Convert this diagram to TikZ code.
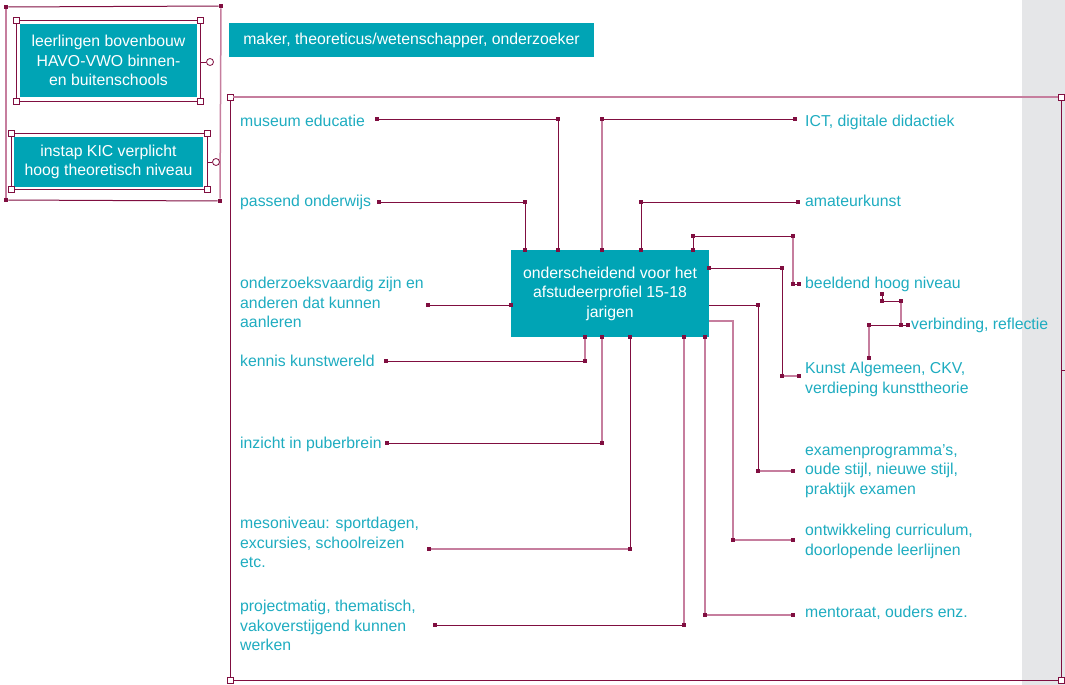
\documentclass[tikz,border=0pt]{standalone}
\usepackage{fontspec}
\setmainfont{Liberation Sans}
\definecolor{boxteal}{RGB}{0,164,181}
\definecolor{txtteal}{RGB}{30,172,192}
\definecolor{wine}{RGB}{128,14,64}
\definecolor{rose}{RGB}{198,126,158}
\definecolor{sidegray}{RGB}{229,230,232}
\newcommand{\lblfont}{\fontsize{15.8}{19.5}\selectfont}
\tikzset{
  vtx/.style={fill=wine, rectangle, minimum size=4.5pt, inner sep=0pt},
  hnd/.style={fill=white, draw=wine, line width=0.8pt, rectangle, minimum size=6pt, inner sep=0pt},
  link/.style={draw=wine, line width=1pt},
  plink/.style={draw=rose, line width=1.5pt},
  lbl/.style={font=\lblfont, text=txtteal, align=left, inner sep=0pt, anchor=north west},
  tealbox/.style={fill=boxteal, text=white, font=\lblfont, align=center, inner sep=0pt},
}
\begin{document}
\begin{tikzpicture}[x=1pt,y=-1pt]
\useasboundingbox (0,0) rectangle (1065,685);
\fill[sidegray] (1022,0) rectangle (1065,685);

% groep linksboven
\foreach \n/\x/\y in {ga/6/7, gb/221/6, gc/220/201, gd/6/200}{
  \node[vtx] (\n) at (\x,\y) {};
}
\draw[link] (ga) -- (gb);
\draw[link] (gd) -- (gc);
\draw[plink] (ga) -- (gd);
\draw[plink] (gb) -- (gc);

\node[tealbox, minimum width=177pt, minimum height=73pt] (leerl) at (108.5,60.5)
  {leerlingen bovenbouw\\HAVO-VWO binnen-\\en buitenschools};
\node[tealbox, minimum width=189pt, minimum height=50pt] (instap) at (108.5,162)
  {instap KIC verplicht\\hoog theoretisch niveau};
\node[tealbox, minimum width=365pt, minimum height=34pt] (maker) at (411.5,40)
  {maker, theoreticus/wetenschapper, onderzoeker};

\draw[wine, line width=0.8pt] (16,20) rectangle (200.5,101);
\draw[wine, line width=0.8pt] (11,133) rectangle (207,189);
\foreach \n/\x/\y in {la/16/20, lb/200.5/20, lc/200.5/101, ld/16/101,
                      ia/11/133, ib/207/133, ic/207/189, id/11/189}{
  \node[hnd] (\n) at (\x,\y) {};
}
\node[circle, draw=wine, fill=white, line width=0.8pt, minimum size=7pt, inner sep=0pt] (lcirc) at (210,62) {};
\node[circle, draw=wine, fill=white, line width=0.8pt, minimum size=7pt, inner sep=0pt] (icirc) at (216,162) {};
\draw[wine, line width=0.8pt] (200.5,62) -- (lcirc);
\draw[wine, line width=0.8pt] (207,162) -- (icirc);

% groot kader
\foreach \n/\x/\y in {fa/230/97, fb/1061/97, fc/1061/680, fd/230/680}{
  \node[hnd] (\n) at (\x,\y) {};
}
\draw[plink] (fa) -- (fb);
\draw[link] (fb) -- (fc) -- (fd) -- (fa);
\coordinate (tick) at (1065,370);
\draw[link] (1061,370) -- (tick);

% middelste blok
\node[tealbox, minimum width=198pt, minimum height=87pt] (centre) at (610,293.5)
  {onderscheidend voor het\\afstudeerprofiel 15-18\\jarigen};

% hoekpunten
\foreach \n/\x/\y in {me1/377/119, me2/558/119, me3/558/250,
                      pa1/379/202, pa2/525/202, pa3/525/250,
                      on1/428/305, on2/511/305,
                      ke1/386/361, ke2/585/361, ke3/585/337,
                      in1/387/443, in2/602/443, in3/602/337,
                      ms1/429/549, ms2/630/549, ms3/630/337,
                      pr1/435/625, pr2/684/625, pr3/684/337,
                      ic1/602/250, ic2/602/119, ic3/795/119,
                      am1/641/250, am2/641/202, am3/798/202,
                      be1/693/250, be2/693/236, be3/793/236, be4/793/284, be5/799/284,
                      ku1/709/268, ku2/782/268, ku3/782/376, ku4/799/376,
                      ex2/758/305, ex3/758/471, ex4/793/471,
                      ow3/733/540, ow4/793/540,
                      mn1/705/337, mn2/705/615, mn3/793/615,
                      vb1/882/294, vb2/882/301, vb3/901/301, vb4/901/325, vb5/908/325,
                      vb6/869/358, vb7/869/325}{
  \node[vtx] (\n) at (\x,\y) {};
}
\coordinate (ex1) at (709,305);
\coordinate (ow1) at (709,321);
\coordinate (ow2) at (733,321);

% verbindingen
\draw[link] (me1) -- (me2) -- (me3);
\draw[link] (pa1) -- (pa2) -- (pa3);
\draw[link] (on1) -- (on2);
\draw[link] (ke1) -- (ke2);
\draw[plink] (ke2) -- (ke3);
\draw[link] (in1) -- (in2);
\draw[plink] (in2) -- (in3);
\draw[plink] (ms1) -- (ms2);
\draw[link] (ms2) -- (ms3);
\draw[link] (pr1) -- (pr2);
\draw[plink] (pr2) -- (pr3);
\draw[plink] (ic1) -- (ic2);
\draw[link] (ic2) -- (ic3);
\draw[link] (am1) -- (am2) -- (am3);
\draw[link] (be1) -- (be2) -- (be3);
\draw[plink] (be3) -- (be4);
\draw[link] (be4) -- (be5);
\draw[link] (ku1) -- (ku2) -- (ku3);
\draw[plink] (ku3) -- (ku4);
\draw[link] (ex1) -- (ex2) -- (ex3);
\draw[plink] (ex3) -- (ex4);
\draw[plink] (ow1) -- (ow2) -- (ow3) -- (ow4);
\draw[plink] (mn1) -- (mn2) -- (mn3);
\draw[link] (vb1) -- (vb2) -- (vb3);
\draw[plink] (vb3) -- (vb4);
\draw[link] (vb4) -- (vb5);
\draw[plink] (vb6) -- (vb7);
\draw[link] (vb7) -- (vb4);

% teksten links
\node[lbl] (tmuseum) at (240,115) {museum educatie};
\node[lbl] (tpassend) at (240,195) {passend onderwijs};
\node[lbl] (tonderz) at (240,277) {onderzoeksvaardig zijn en\\anderen dat kunnen\\aanleren};
\node[lbl] (tkennis) at (240,355) {kennis kunstwereld};
\node[lbl] (tinzicht) at (240,437) {inzicht in puberbrein};
\node[lbl] (tmeso) at (240,517) {mesoniveau: sportdagen,\\excursies, schoolreizen\\etc.};
\node[lbl] (tproject) at (240,600) {projectmatig, thematisch,\\vakoverstijgend kunnen\\werken};

% teksten rechts
\node[lbl] (tict) at (805,115) {ICT, digitale didactiek};
\node[lbl] (tamateur) at (805,195) {amateurkunst};
\node[lbl] (tbeeldend) at (805,277) {beeldend hoog niveau};
\node[lbl] (tverbind) at (911,318) {verbinding, reflectie};
\node[lbl] (tkunst) at (805,362) {Kunst Algemeen, CKV,\\verdieping kunsttheorie};
\node[lbl] (texamen) at (805,444) {examenprogramma’s,\\oude stijl, nieuwe stijl,\\praktijk examen};
\node[lbl] (tontw) at (805,524) {ontwikkeling curriculum,\\doorlopende leerlijnen};
\node[lbl] (tmentor) at (805,606) {mentoraat, ouders enz.};
\end{tikzpicture}
\end{document}
